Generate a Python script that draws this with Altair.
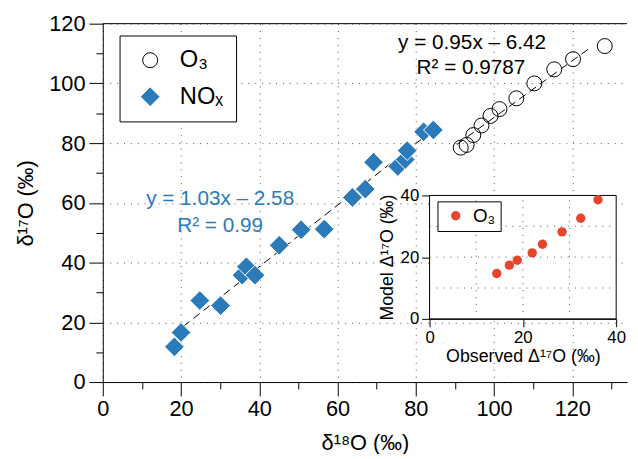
import altair as alt
import pandas as pd

FONT = "Liberation Sans"
BLUE = "#2b7bba"
RED = "#e8432b"

# ---------------- main panel data ----------------
series_names = ["O₃", "NOₓ"]

o3_x = [91.5, 93.0, 94.7, 96.8, 99.1, 101.4, 105.7, 110.3, 115.4, 120.2, 128.3]
o3_y = [78.5, 79.4, 82.7, 85.9, 89.1, 91.4, 95.0, 100.0, 104.7, 108.1, 112.5]

nox_x = [18.3, 20.0, 24.8, 30.1, 35.6, 36.7, 38.9, 45.1, 50.7, 56.6, 63.8, 67.1,
         69.2, 75.4, 77.3, 77.8, 82.0, 84.5]
nox_y = [11.8, 16.6, 27.3, 25.6, 35.8, 38.6, 35.8, 45.8, 51.0, 51.2, 61.8, 64.6,
         73.6, 72.2, 74.5, 77.5, 83.8, 84.4]

# regression lines (slope, intercept, x-extent)
fit_names = ["O₃ fit", "NOₓ fit"]
fit_slope = [0.95, 1.03]
fit_intercept = [-6.42, -2.58]
fit_xmin = [90.5, 18.0]
fit_xmax = [124.5, 83.0]

# annotations
ann_text = ["y = 0.95x – 6.42", "R² = 0.9787", "y = 1.03x – 2.58", "R² = 0.99"]
ann_x = [94.4, 94.1, 30.0, 30.0]
ann_y = [111.6, 103.3, 59.3, 50.4]
ann_color = ["black", "black", BLUE, BLUE]

# ---------------- inset data ----------------
inset_series = ["O₃"]
obs_d17 = [14.4, 17.1, 18.8, 22.0, 24.2, 28.4, 32.4, 36.1]
mod_d17 = [14.7, 17.4, 19.0, 21.4, 24.2, 28.2, 32.6, 38.6]
inset_grid = [10, 20, 30]

# ---------------- tables ----------------
main_df = pd.DataFrame({
    "x": o3_x + nox_x,
    "y": o3_y + nox_y,
    "series": [series_names[0]] * len(o3_x) + [series_names[1]] * len(nox_x),
})

fit_rows = []
for n, s, b, a0, a1 in zip(fit_names, fit_slope, fit_intercept, fit_xmin, fit_xmax):
    for xv in (a0, a1):
        fit_rows.append({"fit": n, "x": xv, "y": s * xv + b})
fit_df = pd.DataFrame(fit_rows)

ann_df = pd.DataFrame({"t": ann_text, "x": ann_x, "y": ann_y, "c": ann_color})

inset_df = pd.DataFrame({"obs": obs_d17, "mod": mod_d17, "s": inset_series * len(obs_d17)})
grid_df = pd.DataFrame({"v": inset_grid})

# ---------------- scales / axes ----------------
XMAX = 134
xs = alt.Scale(domain=[0, XMAX], nice=False, zero=False)
ys = alt.Scale(domain=[0, 120], nice=False, zero=False)

major = "datum.value % 20 === 0"
common_axis = dict(
    labelExpr=f"{major} ? datum.label : ''",
    tickSize={"condition": {"test": major, "value": 14}, "value": 7},
    gridOpacity={"condition": {"test": major, "value": 1}, "value": 0},
    grid=True, gridDash=[1, 6], gridColor="#555555", gridWidth=1,
    labelFontSize=22, titleFontSize=22, labelFlush=False, labelOverlap=False,
    domainColor="black", tickColor="black", labelColor="black", titleColor="black",
    titleFontWeight="normal", labelFont=FONT, titleFont=FONT,
)
x_axis = alt.Axis(title="δ¹⁸O (‰)", values=list(range(0, 131, 10)),
                  labelPadding=3, titlePadding=13, **common_axis)
y_axis = alt.Axis(title="δ¹⁷O (‰)", values=list(range(0, 121, 10)),
                  labelPadding=4, titlePadding=11, **common_axis)

legend_main = alt.Legend(
    title=None, orient="none", legendX=17, legendY=12, direction="vertical",
    strokeColor="black", fillColor="white", padding=13, rowPadding=13,
    symbolOffset=6, labelOffset=18, labelFontSize=24, labelFont=FONT,
    labelColor="black", symbolStrokeWidth=1, cornerRadius=0,
)

sdom = series_names
points = alt.Chart(main_df).mark_point(filled=False, opacity=1, strokeWidth=1).encode(
    x=alt.X("x:Q", scale=xs, axis=x_axis),
    y=alt.Y("y:Q", scale=ys, axis=y_axis),
    shape=alt.Shape("series:N", scale=alt.Scale(domain=sdom, range=["circle", "diamond"]), legend=legend_main),
    fill=alt.Fill("series:N", scale=alt.Scale(domain=sdom, range=["transparent", BLUE]), legend=legend_main),
    stroke=alt.Stroke("series:N", scale=alt.Scale(domain=sdom, range=["black", "white"]), legend=legend_main),
    size=alt.Size("series:N", scale=alt.Scale(domain=sdom, range=[230, 400]), legend=legend_main),
)

fits = alt.Chart(fit_df).mark_line(color="black", strokeWidth=1, strokeDash=[8, 5]).encode(
    x=alt.X("x:Q", scale=xs, axis=x_axis),
    y=alt.Y("y:Q", scale=ys, axis=y_axis),
    detail="fit:N",
)

texts = alt.Chart(ann_df).mark_text(font=FONT, fontSize=21, align="center", baseline="alphabetic").encode(
    x=alt.X("x:Q", scale=xs, axis=x_axis),
    y=alt.Y("y:Q", scale=ys, axis=y_axis),
    text="t:N",
    color=alt.Color("c:N", scale=None),
)

top_border = alt.Chart(pd.DataFrame({"y": [120]})).mark_rule(color="black", strokeWidth=1).encode(
    y=alt.Y("y:Q", scale=ys, axis=y_axis),
    x=alt.XDatum(0, type="quantitative", scale=xs, axis=x_axis),
    x2=alt.X2Datum(XMAX),
)

main = alt.layer(fits, points, texts, top_border)

# ---------------- inset ----------------
ixs = alt.Scale(domain=[0, 40], range=[331, 520], nice=False, zero=False)
iys = alt.Scale(domain=[0, 40], range=[299, 174], nice=False, zero=False)
inset_common = dict(
    values=[0, 20, 40], tickSize=8, grid=False, labelFontSize=17, titleFontSize=18,
    labelFlush=False, labelOverlap=False, domainColor="black", tickColor="black",
    labelColor="black", titleColor="black", titleFontWeight="normal",
    labelFont=FONT, titleFont=FONT,
)
ix_axis = alt.Axis(title="Observed Δ¹⁷O (‰)", orient="bottom", offset=-64,
                   labelPadding=3, titlePadding=2, **inset_common)
iy_axis = alt.Axis(title="Model Δ¹⁷O (‰)", orient="left", offset=-331,
                   labelPadding=3, titlePadding=4, **inset_common)

legend_inset = alt.Legend(
    title=None, orient="none", legendX=339, legendY=180,
    strokeColor="black", fillColor="white", padding=5, symbolOffset=4,
    labelOffset=8, labelFontSize=19, labelFont=FONT, labelColor="black",
    symbolSize=90, symbolType="circle", symbolStrokeWidth=0, cornerRadius=0,
)

bg = alt.Chart(pd.DataFrame({"k": [0]})).mark_rect(fill="white", stroke="black", strokeWidth=1).encode(
    x=alt.XDatum(0, type="quantitative", scale=ixs, axis=ix_axis),
    x2=alt.X2Datum(40),
    y=alt.YDatum(0, type="quantitative", scale=iys, axis=iy_axis),
    y2=alt.Y2Datum(40),
)

vgrid = alt.Chart(grid_df).mark_rule(color="#555555", strokeWidth=1, strokeDash=[1, 6]).encode(
    x=alt.X("v:Q", scale=ixs, axis=ix_axis),
    y=alt.YDatum(0, type="quantitative", scale=iys, axis=iy_axis),
    y2=alt.Y2Datum(40),
)
hgrid = alt.Chart(grid_df).mark_rule(color="#555555", strokeWidth=1, strokeDash=[1, 6]).encode(
    y=alt.Y("v:Q", scale=iys, axis=iy_axis),
    x=alt.XDatum(0, type="quantitative", scale=ixs, axis=ix_axis),
    x2=alt.X2Datum(40),
)

ipoints = alt.Chart(inset_df).mark_circle(size=90, opacity=1).encode(
    x=alt.X("obs:Q", scale=ixs, axis=ix_axis),
    y=alt.Y("mod:Q", scale=iys, axis=iy_axis),
    color=alt.Color("s:N", scale=alt.Scale(domain=inset_series, range=[RED]), legend=legend_inset),
)

inset = alt.layer(bg, vgrid, hgrid, ipoints)

chart = (
    alt.layer(main, inset)
    .resolve_scale(x="independent", y="independent")
    .properties(
        width=531, height=363,
        autosize=alt.AutoSizeParams(type="none"),
        padding={"left": 96, "top": 13, "right": 3, "bottom": 70},
    )
    .configure_view(stroke=None)
    .configure_axis(labelFont=FONT, titleFont=FONT, titleFontWeight="normal")
    .configure_text(font=FONT)
)

chart.save("out.html", embed_options={"renderer": "svg", "actions": False})
